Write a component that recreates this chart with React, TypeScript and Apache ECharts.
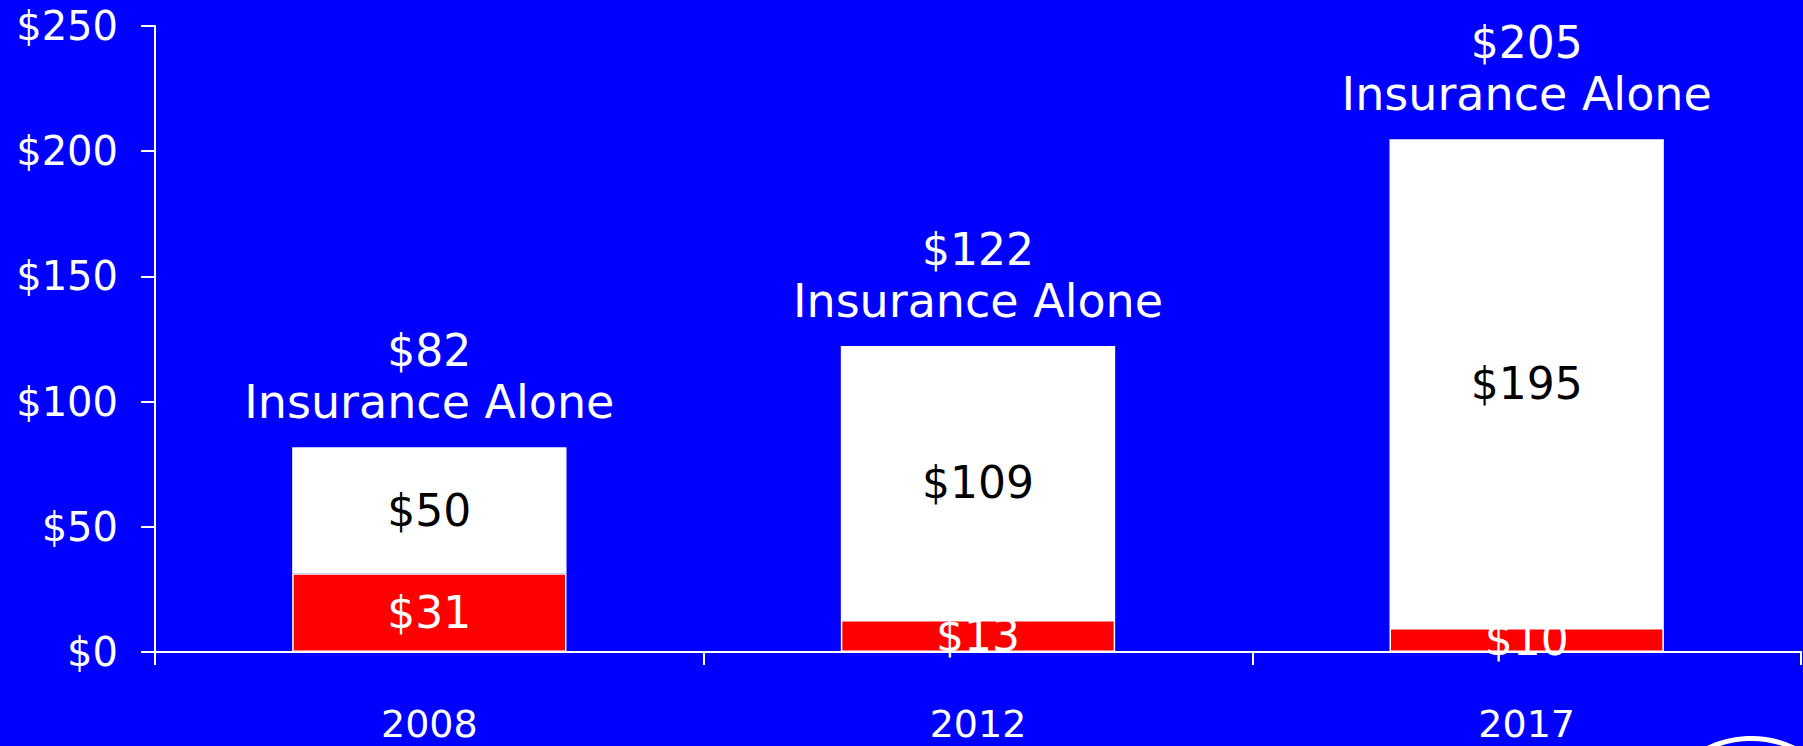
import React, { useEffect, useRef } from "react";
import * as echarts from "echarts";

const years = ["2008", "2012", "2017"];
const otherCosts = [31.4, 12.8, 9.6];
const insuranceCosts = [50.4, 109.4, 195.2];
const totalLabelSuffix = "Insurance Alone";
const yTicks = { min: 0, max: 250, interval: 50 };

const FONT = "DejaVu Sans";

export default function App() {
  const ref = useRef<HTMLDivElement>(null);

  useEffect(() => {
    if (!ref.current) return;
    const chart = echarts.init(ref.current, null, { renderer: "svg" });
    const totals = years.map((_, i) => otherCosts[i] + insuranceCosts[i]);
    const money = (v: number) => "$" + Math.round(v);

    chart.setOption({
      animation: false,
      backgroundColor: "#0000FF",
      textStyle: { fontFamily: FONT },
      grid: { left: 155, right: 2, top: 26, bottom: 94, containLabel: false },
      xAxis: {
        type: "category",
        data: years,
        axisLine: { lineStyle: { color: "#FFFFFF", width: 2 } },
        axisTick: { show: true, length: 13, lineStyle: { color: "#FFFFFF", width: 2 } },
        axisLabel: {
          color: "#FFFFFF",
          fontSize: 38,
          lineHeight: 30,
          margin: 57,
          fontFamily: FONT,
        },
        splitLine: { show: false },
      },
      yAxis: {
        type: "value",
        min: yTicks.min,
        max: yTicks.max,
        interval: yTicks.interval,
        axisLine: { show: true, lineStyle: { color: "#FFFFFF", width: 2 } },
        axisTick: { show: true, length: 14, lineStyle: { color: "#FFFFFF", width: 2 } },
        axisLabel: {
          color: "#FFFFFF",
          fontSize: 40,
          margin: 37,
          fontFamily: FONT,
          formatter: (v: number) => "$" + v,
        },
        splitLine: { show: false },
      },
      series: [
        {
          type: "bar",
          stack: "cost",
          barWidth: "50%",
          data: otherCosts,
          itemStyle: { color: "#FF0000", borderColor: "#FFFFFF", borderWidth: 1.5 },
          label: {
            show: true,
            position: "inside",
            color: "#FFFFFF",
            fontSize: 44,
            fontFamily: FONT,
            formatter: (p: any) => money(p.value),
          },
        },
        {
          type: "bar",
          stack: "cost",
          barWidth: "50%",
          data: insuranceCosts,
          itemStyle: { color: "#FFFFFF" },
          label: {
            show: true,
            position: "inside",
            color: "#000000",
            fontSize: 44,
            fontFamily: FONT,
            formatter: (p: any) => money(p.value),
          },
        },
        {
          type: "bar",
          stack: "cost",
          barWidth: "50%",
          data: years.map(() => 0),
          itemStyle: { color: "transparent" },
          label: {
            show: true,
            position: "top",
            distance: 20,
            color: "#FFFFFF",
            fontFamily: FONT,
            formatter: (p: any) =>
              "{a|" + money(totals[p.dataIndex]) + "}\n{b|" + totalLabelSuffix + "}",
            rich: {
              a: { fontSize: 44, lineHeight: 51, color: "#FFFFFF", fontFamily: FONT },
              b: { fontSize: 46, lineHeight: 51, color: "#FFFFFF", fontFamily: FONT },
            },
          },
        },
      ],
      graphic: [
        {
          type: "circle",
          shape: { cx: 1751, cy: 838.5, r: 100 },
          style: { fill: "none", stroke: "#FFFFFF", lineWidth: 5 },
          silent: true,
        },
      ],
    });

    return () => chart.dispose();
  }, []);

  return (
    <div
      ref={ref}
      style={{ position: "absolute", left: 0, top: 0, width: 1803, height: 746 }}
    />
  );
}
